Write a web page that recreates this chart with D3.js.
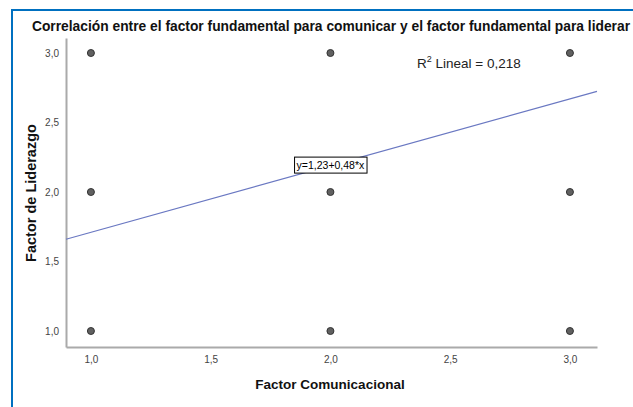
<!DOCTYPE html>
<html>
<head>
<meta charset="utf-8">
<script src="https://cdn.jsdelivr.net/npm/d3@7"></script>
<style>
  body { margin: 0; background: #fff; }
  svg { display: block; font-family: "Liberation Sans", Arial, sans-serif; }
</style>
</head>
<body>
<svg id="chart" width="633" height="407"></svg>
<script>
// data
var xValues = [1, 1, 1, 2, 2, 2, 3, 3, 3];
var yValues = [1, 2, 3, 1, 2, 3, 1, 2, 3];
var xTicks = [1.0, 1.5, 2.0, 2.5, 3.0];
var yTicks = [1.0, 1.5, 2.0, 2.5, 3.0];
var fitIntercept = 1.23, fitSlope = 0.48;
var eqLabel = "y=1,23+0,48*x";
var r2Text = "0,218";
var title = "Correlación entre el factor fundamental para comunicar y el factor fundamental para liderar";

var svg = d3.select("#chart");
var fmt = function(d) { return d3.format(".1f")(d).replace(".", ","); };

// frame
svg.append("line").attr("x1", 11).attr("x2", 633).attr("y1", 10).attr("y2", 10)
  .style("stroke", "#0070C0").style("stroke-width", 2);
svg.append("line").attr("x1", 12).attr("x2", 12).attr("y1", 9).attr("y2", 407)
  .style("stroke", "#0070C0").style("stroke-width", 2);

var plotLeft = 66, plotRight = 597, plotTop = 38, plotBottom = 347;
var xDomain = [0.896, 3.113], yDomain = [0.885, 3.108];
var xScale = d3.scaleLinear().domain(xDomain).range([plotLeft, plotRight]);
var yScale = d3.scaleLinear().domain(yDomain).range([plotBottom, plotTop]);

// axes
var xAxis = d3.axisBottom(xScale).tickValues(xTicks).tickFormat(fmt).tickSize(0).tickPadding(9);
var yAxis = d3.axisLeft(yScale).tickValues(yTicks).tickFormat(fmt).tickSize(0).tickPadding(7);
svg.append("g").attr("id", "xAxisG").attr("transform", "translate(0," + plotBottom + ")").call(xAxis);
svg.append("g").attr("id", "yAxisG").attr("transform", "translate(" + plotLeft + ",0)").call(yAxis);
svg.selectAll("path.domain").style("stroke", "#aaa").style("stroke-width", 2);
svg.selectAll(".tick text").attr("font-size", "10px").attr("fill", "#444")
  .attr("font-family", "Liberation Sans, Arial, sans-serif");

// fit line
svg.append("line")
  .attr("x1", xScale(xDomain[0])).attr("y1", yScale(fitIntercept + fitSlope * xDomain[0]))
  .attr("x2", xScale(xDomain[1])).attr("y2", yScale(fitIntercept + fitSlope * xDomain[1]))
  .style("stroke", "#6A78C2").style("stroke-width", 1.2);

// points
svg.selectAll("circle.pt").data(xValues).enter().append("circle")
  .attr("class", "pt")
  .attr("r", 3.5)
  .attr("cx", function(d) { return xScale(d); })
  .attr("cy", function(d, i) { return yScale(yValues[i]); })
  .style("fill", "#606060").style("stroke", "#333").style("stroke-width", 1);

// equation label
var eqX = 2.0, eqY = fitIntercept + fitSlope * eqX;
var eq = svg.append("g").attr("transform", "translate(" + xScale(eqX) + "," + yScale(eqY) + ")");
var eqText = eq.append("text").attr("x", 0).attr("y", 3.5).attr("text-anchor", "middle")
  .attr("font-size", "10.5px").attr("fill", "#000")
  .text(eqLabel);
var bb = eqText.node().getBBox();
eq.insert("rect", "text").attr("x", bb.x - 2).attr("y", bb.y - 2)
  .attr("width", bb.width + 4).attr("height", bb.height + 4)
  .style("fill", "#fff").style("stroke", "#000").style("stroke-width", 1);

// R2 annotation
var r2 = svg.append("text").attr("x", 417).attr("y", 68).attr("font-size", "13.5px").attr("fill", "#222");
r2.append("tspan").text("R");
r2.append("tspan").attr("font-size", "9px").attr("dy", -6).text("2");
r2.append("tspan").attr("dy", 6).text(" Lineal = " + r2Text);

// titles
svg.append("text").attr("x", 331).attr("y", 31).attr("text-anchor", "middle")
  .attr("font-size", "13.8px").attr("font-weight", "bold").attr("fill", "#111")
  .text(title);
svg.append("text").attr("x", 330).attr("y", 389).attr("text-anchor", "middle")
  .attr("font-size", "13.5px").attr("font-weight", "bold").attr("fill", "#111")
  .text("Factor Comunicacional");
svg.append("text").attr("transform", "translate(36,193) rotate(-90)").attr("text-anchor", "middle")
  .attr("font-size", "14.5px").attr("font-weight", "bold").attr("fill", "#111")
  .text("Factor de Liderazgo");
</script>
</body>
</html>
